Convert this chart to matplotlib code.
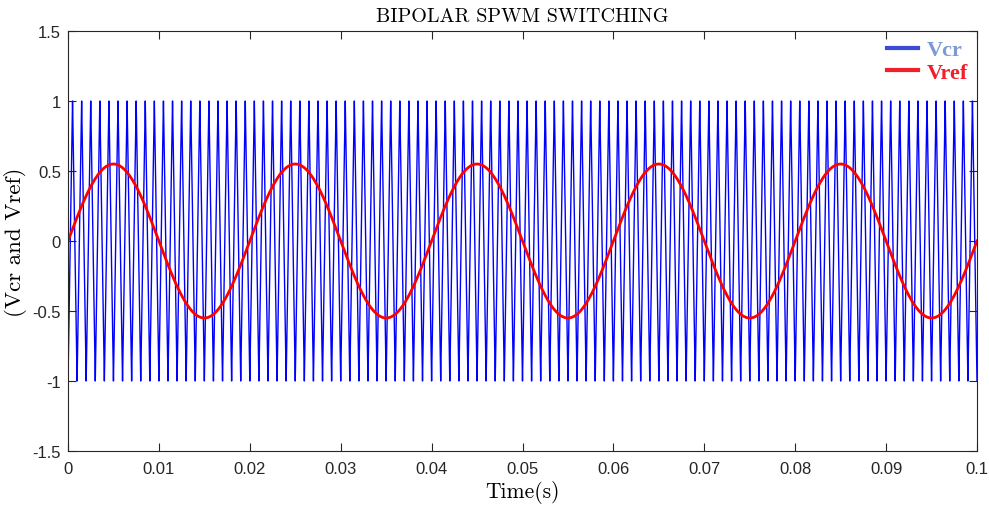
import numpy as np
import matplotlib.pyplot as plt
from matplotlib.lines import Line2D

# signal parameters
t_end = 0.1
carrier_freq = 1000      # Hz, triangle carrier
carrier_amp = 1.0
ref_freq = 50            # Hz, sine reference
ref_amp = 0.55

x_ticks = [0, 0.01, 0.02, 0.03, 0.04, 0.05, 0.06, 0.07, 0.08, 0.09, 0.1]
x_labels = ['0', '0.01', '0.02', '0.03', '0.04', '0.05', '0.06', '0.07', '0.08', '0.09', '0.1']
y_ticks = [-1.5, -1, -0.5, 0, 0.5, 1, 1.5]
y_labels = ['-1.5', '-1', '-0.5', '0', '0.5', '1', '1.5']

t = np.linspace(0, t_end, 20001)
phase = (t * carrier_freq) % 1.0
vcr = carrier_amp * (1 - 4 * np.abs(phase - 0.5))
vcr[0] = carrier_amp
vref = ref_amp * np.sin(2 * np.pi * ref_freq * t)

fig = plt.figure(figsize=(9.89, 5.06), dpi=100)
ax = fig.add_axes([68 / 989, 1 - 452 / 506, 909 / 989, 420 / 506])

ax.plot(t, vcr, color=(0, 0, 1), lw=1.0)
ax.plot(t, vref, color=(1, 0, 0), lw=2.0)

ax.set_xlim(0, t_end)
ax.set_ylim(-1.5, 1.5)
ax.set_xticks(x_ticks)
ax.set_xticklabels(x_labels)
ax.set_yticks(y_ticks)
ax.set_yticklabels(y_labels)

edge = '#262626'
for s in ax.spines.values():
    s.set_color(edge)
    s.set_linewidth(0.8)
ax.tick_params(direction='in', top=True, right=True, length=6, width=0.8,
               color=edge, labelcolor=edge, labelsize=12)
ax.tick_params(axis='x', pad=7)
ax.tick_params(axis='y', pad=5)
for lbl in ax.get_xticklabels() + ax.get_yticklabels():
    lbl.set_fontfamily('Liberation Sans')

ax.set_title('BIPOLAR SPWM SWITCHING', fontfamily='cmr10', fontsize=14.5, pad=7)
ax.set_xlabel('Time(s)', fontfamily='cmr10', fontsize=15.5, labelpad=3)
ax.set_ylabel('(Vcr and Vref)', fontfamily='cmr10', fontsize=16.5, labelpad=4)

handles = [Line2D([], [], color='#3b4bd6', lw=3),
           Line2D([], [], color='#f0202a', lw=3)]
leg = ax.legend(handles, ['Vcr', 'Vref'], loc='upper right', frameon=False,
                prop={'family': 'Liberation Serif', 'weight': 'bold', 'size': 16},
                handlelength=1.4, handletextpad=0.4, labelspacing=0.1,
                borderaxespad=0.1, borderpad=0.3)
for txt, c in zip(leg.get_texts(), ['#7b9bd2', '#f0202a']):
    txt.set_color(c)

fig.savefig('out.png', dpi=100)
